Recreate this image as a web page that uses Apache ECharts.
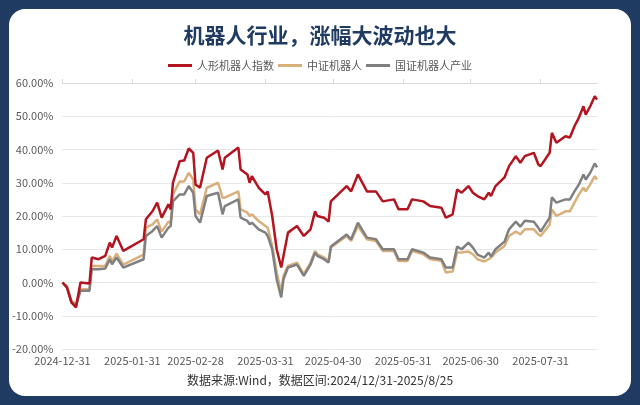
<!DOCTYPE html>
<html><head><meta charset="utf-8">
<script src="https://cdn.jsdelivr.net/npm/echarts@6/dist/echarts.min.js"></script>
<style>
html,body{margin:0;padding:0;width:640px;height:405px;background:#1f3b62;overflow:hidden;}
#panel{position:absolute;left:9px;top:9px;width:622px;height:387px;background:#fff;border-radius:16px;}
#c{width:622px;height:387px;}
</style></head><body>
<div id="panel"><div id="c"></div></div>
<script>
const dates = ['2024-12-31','2025-01-02','2025-01-04','2025-01-06','2025-01-08','2025-01-12','2025-01-13','2025-01-16','2025-01-19','2025-01-21','2025-01-22','2025-01-24','2025-01-27','2025-02-05','2025-02-06','2025-02-09','2025-02-11','2025-02-13','2025-02-16','2025-02-17','2025-02-18','2025-02-21','2025-02-23','2025-02-25','2025-02-27','2025-02-28','2025-03-02','2025-03-05','2025-03-10','2025-03-12','2025-03-13','2025-03-19','2025-03-20','2025-03-23','2025-03-24','2025-03-25','2025-03-28','2025-03-31','2025-04-01','2025-04-03','2025-04-05','2025-04-07','2025-04-08','2025-04-10','2025-04-14','2025-04-17','2025-04-20','2025-04-22','2025-04-23','2025-04-26','2025-04-28','2025-04-29','2025-05-06','2025-05-08','2025-05-11','2025-05-15','2025-05-19','2025-05-22','2025-05-27','2025-05-29','2025-06-02','2025-06-04','2025-06-09','2025-06-12','2025-06-17','2025-06-19','2025-06-22','2025-06-24','2025-06-26','2025-06-29','2025-07-01','2025-07-03','2025-07-06','2025-07-08','2025-07-09','2025-07-11','2025-07-15','2025-07-17','2025-07-20','2025-07-22','2025-07-24','2025-07-28','2025-07-30','2025-07-31','2025-08-04','2025-08-05','2025-08-07','2025-08-11','2025-08-13','2025-08-15','2025-08-17','2025-08-19','2025-08-20','2025-08-22','2025-08-24','2025-08-25'];
const humanoid = [0,-1.5,-6,-7.5,0,-0.3,7.5,7,8,12,10.5,14,9.5,13,19,21.5,24,19.5,23.5,22,30,36.5,36.7,40.3,39,29.5,28.5,37.5,39.7,34,37.5,40.6,34,32.5,30,32,28.5,26.5,27.4,20,10,4.5,8,15,17,14,16,21.4,20,19.5,18.3,24.4,29,27.4,32.5,27.4,27.4,24.4,25,22,22,25,24.4,23,22.5,19.5,20.5,28,27,29,27,26,25,27,26,29,31.6,35,38,36,38,39,35.5,35,39,45,42,44,43.6,47,49.6,53,50.5,53,56,55];
const csiRobot = [0,-1,-5.5,-6.5,-2,-2,5,5,5,8,6.3,8.7,5.4,8.4,16.5,17.5,19,15.3,18.3,18,26.5,30.4,30.4,33,31,22,20.5,28.5,30,25.5,25.5,27.4,22,21,20,20.5,18.5,17,16.5,11,3,-3,2,5,6,2.5,6,9.5,8.5,7.5,6.5,10.5,14,12.5,17,13,12.5,9.5,9.5,6.5,6.5,9.5,8.5,7,6.5,3,3.3,9,9,9.3,8.5,7,6.3,7,7.5,9,11,14,15.3,14.5,16,16,14.5,14,17.4,22,20,21.4,21.4,24,26.5,28.5,27.4,29.5,32,31];
const cnRobotInd = [0,-1.5,-6,-7,-2.5,-2.5,4,4,4.2,7,5.5,7.5,4.5,7,14,15.5,17,13.5,16.5,17,24.4,26.5,26.5,29,27,20,18,26,27,20.5,23,25,19.5,18.5,17.5,18,16,15,14,10,1,-4.5,1,4.5,5.4,2,5.4,9,8,7,6,10.8,14.4,13,18,13.5,13,10,10,7,7,10,9,7.5,7,4.5,4.5,10.8,10,12,10.5,8.4,7.5,9,7.8,10,12.3,16,18.3,16.8,18.6,18.3,16.5,15.3,19.5,25.6,24,25,25,27.4,29.5,32.5,31,33,35.8,34.6];
const xTickDates = ['2024-12-31','2025-01-31','2025-02-28','2025-03-31','2025-04-30','2025-05-31','2025-06-30','2025-07-31'];
const seriesNames = ['人形机器人指数','中证机器人','国证机器人产业'];
const ts = s => { const p = s.split('-'); return Date.UTC(+p[0], +p[1]-1, +p[2]); };
const ticks = xTickDates.map(ts);
const pair = arr => dates.map((d,i)=>[ts(d), arr[i]]);
const fmt = v => { const d=new Date(v); const m=d.getUTCMonth()+1, dd=d.getUTCDate(); return d.getUTCFullYear()+'-'+(m<10?'0':'')+m+'-'+(dd<10?'0':'')+dd; };
const xmin = ts('2024-12-31'), xmax = ts('2025-08-25');
const chart = echarts.init(document.getElementById('c'));
const colors = ['#b3141f','#d9b07c','#808080'];
chart.setOption({
  animation:false,
  color: colors,
  title:{text:'机器人行业，涨幅大波动也大',left:'center',top:11,textStyle:{fontSize:21,fontWeight:'bold',color:'#1f3b62',fontFamily:'Noto Sans CJK SC'}},
  legend:{top:46,left:'center',itemWidth:24,itemHeight:3,itemGap:4,icon:'rect',textStyle:{fontSize:11,color:'#595959',fontFamily:'Noto Sans CJK SC'},data:seriesNames},
  grid:{left:53,right:34,top:74,bottom:47},
  xAxis:[{type:'value',min:xmin,max:xmax,position:'bottom',
    axisLine:{show:false},axisTick:{show:false},splitLine:{show:false},
    axisLabel:{customValues:ticks,formatter:fmt,color:'#595959',fontSize:11,margin:6,hideOverlap:false,showMinLabel:true,fontFamily:'Noto Sans CJK SC'}},
   {type:'value',min:xmin,max:xmax,axisLine:{onZero:true,lineStyle:{color:'#d9d9d9'}},
    axisTick:{show:true,customValues:ticks,length:4,lineStyle:{color:'#d9d9d9'}},axisLabel:{show:false},splitLine:{show:false}}],
  yAxis:{type:'value',min:-20,max:60,interval:10,axisLine:{show:false},axisTick:{show:false},
    splitLine:{lineStyle:{color:'#e8e8e8'}},
    axisLabel:{formatter:v=>v.toFixed(2)+'%',color:'#595959',fontSize:11,margin:9,fontFamily:'Noto Sans CJK SC'}},
  graphic:[{type:'text',left:'center',top:365,style:{text:'数据来源:Wind，数据区间:2024/12/31-2025/8/25',fill:'#333',fontSize:12,fontFamily:'Noto Sans CJK SC'}}],
  series:[
    {name:seriesNames[0],type:'line',data:pair(humanoid),showSymbol:false,lineStyle:{width:2.5},z:3},
    {name:seriesNames[1],type:'line',data:pair(csiRobot),showSymbol:false,lineStyle:{width:2.5},z:2},
    {name:seriesNames[2],type:'line',data:pair(cnRobotInd),showSymbol:false,lineStyle:{width:2.5},z:2}
  ]
});
</script></body></html>
